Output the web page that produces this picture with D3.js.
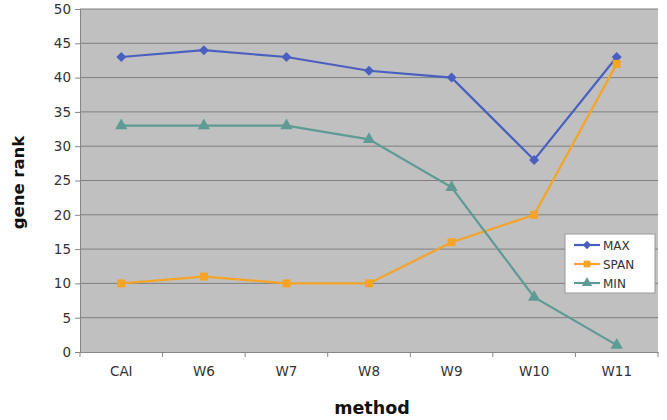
<!DOCTYPE html>
<html><head><meta charset="utf-8">
<script src="https://cdn.jsdelivr.net/npm/d3@7"></script>
<style>body{margin:0;background:#fff}svg{display:block}</style>
</head><body>
<svg id="c" width="667" height="420"></svg>
<script>
const categories = ["CAI","W6","W7","W8","W9","W10","W11"];
const maxVals  = [43,44,43,41,40,28,43];
const spanVals = [10,11,10,10,16,20,42];
const minVals  = [33,33,33,31,24,8,1];
const yTicks = [0,5,10,15,20,25,30,35,40,45,50];
const seriesNames = ["MAX","SPAN","MIN"];

const series = [
  {name: seriesNames[0], values: maxVals, color: "#4a60c0", symbol: d3.symbolSquare, size: 50, rot: 45},
  {name: seriesNames[1], values: spanVals, color: "#f5a428", symbol: d3.symbolSquare, size: 64, rot: 0},
  {name: seriesNames[2], values: minVals, color: "#5e9b94", symbol: d3.symbolTriangle, size: 65, rot: 0}
];

const svg = d3.select("#c");
const L = 80, R = 658, T = 9, B = 352;
const x = d3.scaleBand().domain(categories).range([L, R]);
const y = d3.scaleLinear().domain([0, 50]).range([B, T]);
const font = "'DejaVu Sans', Verdana, sans-serif";

svg.append("rect").attr("x", L).attr("y", T).attr("width", R - L).attr("height", B - T).attr("fill", "#c0c0c0");

svg.append("g").selectAll("line").data(yTicks.filter(d => d > 0)).join("line")
  .attr("x1", L).attr("x2", R).attr("y1", d => y(d)).attr("y2", d => y(d))
  .attr("stroke", "#7f7f7f").attr("stroke-width", 1);

const yAxis = svg.append("g").attr("transform", `translate(${L},0)`)
  .call(d3.axisLeft(y).tickValues(yTicks).tickSize(5).tickPadding(4));
const xAxis = svg.append("g").attr("transform", `translate(0,${B})`)
  .call(d3.axisBottom(x).tickSize(0).tickPadding(14));
svg.append("g").selectAll("line").data(categories.concat([null])).join("line")
  .attr("x1", (d, i) => L + i * x.bandwidth()).attr("x2", (d, i) => L + i * x.bandwidth())
  .attr("y1", B).attr("y2", B + 5).attr("stroke", "#868686");

[yAxis, xAxis].forEach(g => {
  g.selectAll(".domain").attr("stroke", "#868686");
  g.selectAll(".tick line").attr("stroke", "#868686");
  g.selectAll("text").attr("font-family", font).attr("font-size", 13.5).attr("fill", "#333");
});

const line = d3.line().x((d, i) => x(categories[i]) + x.bandwidth() / 2).y(d => y(d));
series.forEach(s => {
  svg.append("path").datum(s.values).attr("d", line).attr("fill", "none")
    .attr("stroke", s.color).attr("stroke-width", 2.2);
  svg.append("g").selectAll("path").data(s.values).join("path")
    .attr("transform", (d, i) => `translate(${x(categories[i]) + x.bandwidth() / 2},${y(d)}) rotate(${s.rot})`)
    .attr("d", d3.symbol().type(s.symbol).size(s.size)).attr("fill", s.color);
});

svg.append("text").attr("transform", `translate(24,${(T + B) / 2 + 2}) rotate(-90)`)
  .attr("text-anchor", "middle").attr("font-family", font).attr("font-weight", "bold")
  .attr("font-size", 16.5).attr("fill", "#111").text("gene rank");
svg.append("text").attr("x", 372).attr("y", 414).attr("text-anchor", "middle")
  .attr("font-family", font).attr("font-weight", "bold").attr("font-size", 17.5)
  .attr("fill", "#111").text("method");

const lg = svg.append("g").attr("transform", "translate(565,234)");
lg.append("rect").attr("width", 90).attr("height", 59).attr("fill", "#fff").attr("stroke", "#999");
series.forEach((s, i) => {
  const yy = 11 + i * 19;
  lg.append("line").attr("x1", 9).attr("x2", 35).attr("y1", yy).attr("y2", yy)
    .attr("stroke", s.color).attr("stroke-width", 2.2);
  lg.append("path").attr("transform", `translate(22,${yy}) rotate(${s.rot})`)
    .attr("d", d3.symbol().type(s.symbol).size(s.size * 0.7)).attr("fill", s.color);
  lg.append("text").attr("x", 38).attr("y", yy + 4.5).attr("font-family", font)
    .attr("font-size", 12).attr("fill", "#333").text(s.name);
});
</script>
</body></html>
